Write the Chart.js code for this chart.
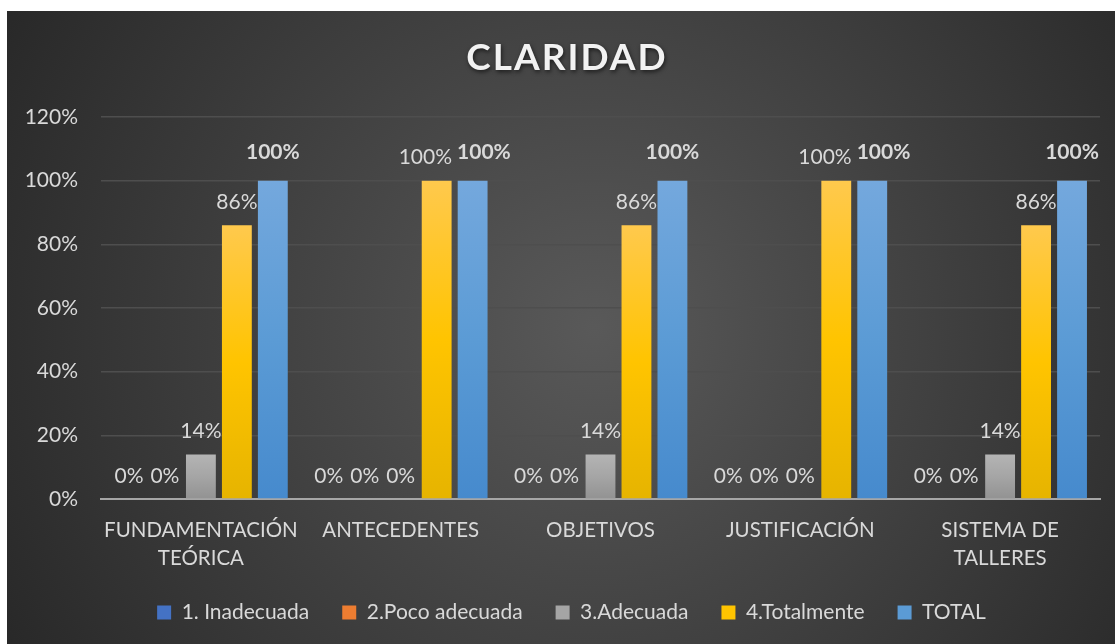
<!DOCTYPE html>
<html lang="es">
<head>
<meta charset="utf-8">
<title>Claridad</title>
<script src="https://cdn.jsdelivr.net/npm/chart.js@4.4.1/dist/chart.umd.min.js"></script>
<style>
  html, body { margin: 0; padding: 0; background: #ffffff; }
  #wrap { position: absolute; left: 7px; top: 11px; width: 1108px; height: 633px; }
</style>
</head>
<body>
<div id="wrap"><canvas id="claridadChart"></canvas></div>
<script>
// categorias y valores (en %)
var titulo = 'CLARIDAD';
var categorias = [['FUNDAMENTACIÓN', 'TEÓRICA'], 'ANTECEDENTES', 'OBJETIVOS', 'JUSTIFICACIÓN', ['SISTEMA DE', 'TALLERES']];
var inadecuada   = [0, 0, 0, 0, 0];
var pocoAdecuada = [0, 0, 0, 0, 0];
var adecuada     = [14, 0, 14, 0, 14];
var totalmente   = [86, 100, 86, 100, 86];
var total        = [100, 100, 100, 100, 100];
var ticksY = [0, 20, 40, 60, 80, 100, 120];

var FUENTE = 'Lato, "Open Sans", sans-serif';
var TEXTO = '#d9d9d9';

// colores: [arriba, medio, abajo] para el degradado de cada barra
var colores = {
    inadecuada: ['#5a85d0', '#4472c4', '#3a66b8'],
    poco: ['#f28c48', '#ed7d31', '#e0702a'],
    adecuada: ['#b4b4b4', '#a5a5a5', '#929292'],
    totalmente: ['#ffc94d', '#ffc400', '#e6b400'],
    total: ['#74a8dd', '#5b9bd5', '#468acd']
};

function degradado(par) {
    return function (c) {
        var chart = c.chart;
        if (!chart.chartArea || c.type !== 'data') return par[1];
        var y = chart.scales.y;
        var top = y.getPixelForValue(c.raw);
        var base = y.getPixelForValue(0);
        if (base - top < 1) return par[1];
        var g = chart.ctx.createLinearGradient(0, top, 0, base);
        g.addColorStop(0, par[0]);
        g.addColorStop(0.5, par[1]);
        g.addColorStop(1, par[2]);
        return g;
    };
}

// fondo oscuro con degradado radial
var fondo = {
    id: 'fondo',
    beforeDraw: function (chart) {
        var ctx = chart.ctx, w = chart.width, h = chart.height;
        var g = ctx.createRadialGradient(w * 0.53, h * 0.5, 0, w * 0.53, h * 0.5, w * 0.62);
        g.addColorStop(0, '#595959');
        g.addColorStop(1, '#272727');
        ctx.save();
        ctx.fillStyle = g;
        ctx.fillRect(0, 0, w, h);
        ctx.restore();
    }
};

// titulo con espaciado entre letras y sombra
var cabecera = {
    id: 'cabecera',
    afterDraw: function (chart) {
        var ctx = chart.ctx;
        ctx.save();
        ctx.font = 'bold 37px ' + FUENTE;
        ctx.letterSpacing = '2px';
        ctx.textAlign = 'center';
        ctx.textBaseline = 'middle';
        ctx.shadowColor = 'rgba(0,0,0,0.6)';
        ctx.shadowBlur = 4;
        ctx.shadowOffsetX = 1;
        ctx.shadowOffsetY = 2;
        ctx.fillStyle = '#f2f2f2';
        ctx.fillText(titulo, chart.width / 2 + 6, 47);
        ctx.restore();
    }
};

// leyenda un poco desplazada a la derecha
var moverLeyenda = {
    id: 'moverLeyenda',
    afterLayout: function (chart) {
        if (!chart.legend) return;
        chart.legend.left += 18;
        chart.legend.right += 18;
    }
};

// etiquetas de valor encima de cada barra
var etiquetas = {
    id: 'etiquetas',
    afterDatasetsDraw: function (chart) {
        var ctx = chart.ctx;
        var n = chart.data.labels.length;
        ctx.save();
        ctx.fillStyle = TEXTO;
        ctx.textAlign = 'center';
        ctx.textBaseline = 'middle';
        for (var i = 0; i < n; i++) {
            var items = [];
            chart.data.datasets.forEach(function (ds, d) {
                var bar = chart.getDatasetMeta(d).data[i];
                var negrita = ds.label === 'TOTAL';
                ctx.font = (negrita ? 'bold ' : '') + '21px ' + FUENTE;
                var txt = ds.data[i] + '%';
                items.push({
                    x: bar.x, y: bar.y - (negrita ? 28 : 23),
                    txt: txt, negrita: negrita,
                    w: ctx.measureText(txt).width
                });
            });
            // separar etiquetas que se pisan a la misma altura
            for (var k = 1; k < items.length; k++) {
                var a = items[k - 1], b = items[k];
                if (Math.abs(a.y - b.y) > 18) continue;
                var solape = (a.x + a.w / 2 + 5) - (b.x - b.w / 2);
                if (solape > 0) {
                    a.x -= solape / 2;
                    b.x += solape / 2;
                }
            }
            items.forEach(function (it) {
                ctx.font = (it.negrita ? 'bold ' : '') + '21px ' + FUENTE;
                ctx.fillText(it.txt, it.x, it.y);
            });
        }
        ctx.restore();
    }
};

var ctx = document.getElementById('claridadChart').getContext('2d');

var series = [
    { label: '1. Inadecuada', data: inadecuada, c: colores.inadecuada },
    { label: '2.Poco adecuada', data: pocoAdecuada, c: colores.poco },
    { label: '3.Adecuada', data: adecuada, c: colores.adecuada },
    { label: '4.Totalmente', data: totalmente, c: colores.totalmente },
    { label: 'TOTAL', data: total, c: colores.total }
];

var myChart = new Chart(ctx, {
    type: 'bar',
    data: {
        labels: categorias,
        datasets: series.map(function (s) {
            return {
                label: s.label,
                data: s.data,
                backgroundColor: degradado(s.c),
                legendColor: s.c[1],
                categoryPercentage: 0.9,
                barPercentage: 0.83
            };
        })
    },
    options: {
        responsive: true,
        maintainAspectRatio: false,
        animation: false,
        layout: { padding: { left: 0, right: 15, top: 106, bottom: 11 } },
        plugins: {
            title: { display: false },
            legend: {
                position: 'bottom',
                labels: {
                    color: TEXTO,
                    font: { family: FUENTE, size: 21 },
                    boxWidth: 14,
                    boxHeight: 14,
                    padding: 33,
                    generateLabels: function (chart) {
                        return chart.data.datasets.map(function (ds, i) {
                            return {
                                text: ds.label,
                                fillStyle: ds.legendColor,
                                strokeStyle: ds.legendColor,
                                lineWidth: 0,
                                fontColor: TEXTO,
                                datasetIndex: i
                            };
                        });
                    }
                }
            },
            tooltip: { enabled: false }
        },
        scales: {
            y: {
                min: 0,
                max: 120,
                afterBuildTicks: function (scale) {
                    scale.ticks = ticksY.map(function (v) { return { value: v }; });
                },
                afterFit: function (scale) { scale.width = 94; },
                ticks: {
                    color: TEXTO,
                    padding: 23,
                    font: { family: FUENTE, size: 21 },
                    callback: function (v) { return v + '%'; }
                },
                grid: { color: '#4e4e4e', lineWidth: 1.5, drawTicks: false },
                border: { display: false }
            },
            x: {
                afterFit: function (scale) { scale.height = 70; },
                ticks: {
                    color: TEXTO,
                    padding: 17,
                    autoSkip: false,
                    font: { family: FUENTE, size: 20.5, lineHeight: 1.37 },
                    maxRotation: 0
                },
                grid: { display: false, drawTicks: false },
                border: { display: true, color: '#a6a6a6', width: 2 }
            }
        }
    },
    plugins: [fondo, etiquetas, cabecera, moverLeyenda]
});
</script>
</body>
</html>
